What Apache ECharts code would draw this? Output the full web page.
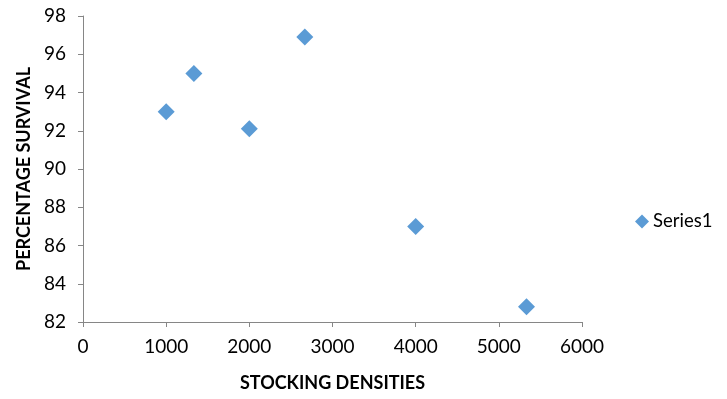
<!DOCTYPE html>
<html>
<head>
<meta charset="utf-8">
<script src="https://cdn.jsdelivr.net/npm/echarts@6/dist/echarts.min.js"></script>
<style>
  html, body { margin: 0; padding: 0; background: #fff; }
  #chart { width: 727px; height: 399px; }
</style>
</head>
<body>
<div id="chart"></div>
<script>
// stocking density vs survival
const densities = [1000, 1333, 2000, 2667, 4000, 5333];
const survival = [93, 95, 92.1, 96.9, 87, 82.8];
const seriesName = 'Series1';

const points = densities.map((d, i) => [d, survival[i]]);
const font = 'Lato, "Open Sans", sans-serif';
const axisGrey = '#868686';

const chart = echarts.init(document.getElementById('chart'));
chart.setOption({
  animation: false,
  textStyle: { fontFamily: font },
  grid: { left: 83, right: 145, top: 16, bottom: 77 },
  legend: {
    data: [{ name: seriesName, icon: 'diamond' }],
    orient: 'vertical',
    left: 630,
    top: 207,
    itemWidth: 14,
    itemHeight: 14,
    itemGap: 4,
    textStyle: { fontSize: 18.5, color: '#000', fontFamily: font, padding: [0, 0, 0, -1] }
  },
  xAxis: {
    type: 'value',
    min: 0, max: 6000, interval: 1000,
    name: 'STOCKING DENSITIES',
    nameLocation: 'middle',
    nameGap: 52,
    nameTextStyle: { fontSize: 18, fontWeight: 'bold', color: '#000' },
    splitLine: { show: false },
    axisLine: { show: true, lineStyle: { color: axisGrey } },
    axisTick: { show: true, length: 5, lineStyle: { color: axisGrey } },
    axisLabel: { fontSize: 19, color: '#000', margin: 15, formatter: v => String(v) }
  },
  yAxis: {
    type: 'value',
    min: 82, max: 98, interval: 2,
    name: 'PERCENTAGE SURVIVAL',
    nameLocation: 'middle',
    nameGap: 47,
    nameTextStyle: { fontSize: 18, fontWeight: 'bold', color: '#000' },
    splitLine: { show: false },
    axisLine: { show: true, lineStyle: { color: axisGrey } },
    axisTick: { show: true, length: 5, lineStyle: { color: axisGrey } },
    axisLabel: { fontSize: 19, color: '#000', margin: 17 }
  },
  series: [{
    name: seriesName,
    type: 'scatter',
    symbol: 'diamond',
    symbolSize: 17,
    itemStyle: { color: '#5B9BD5', opacity: 1 },
    data: points
  }]
});
</script>
</body>
</html>
